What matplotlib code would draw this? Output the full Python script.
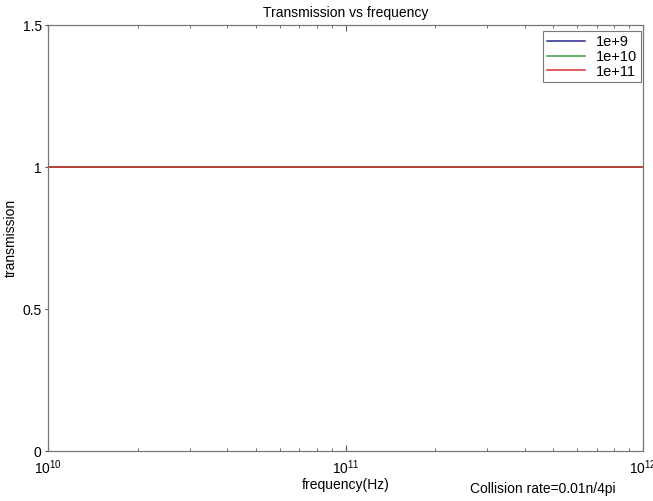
import numpy as np
import matplotlib
matplotlib.use('Agg')
import matplotlib.pyplot as plt

plt.rcParams['font.family'] = ['Liberation Sans', 'DejaVu Sans']

# frequency range (Hz) and transmission for each collision case
freq = [1e10, 1e11, 1e12]
trans_1e9 = [1, 1, 1]
trans_1e10 = [1, 1, 1]
trans_1e11 = [1, 1, 1]
labels = ['1e+9', '1e+10', '1e+11']
colors = ['#2a2a8a', '#3a9a3a', '#d83030']

fig = plt.figure(figsize=(6.53, 5.01), dpi=100)
ax = fig.add_axes([0.0735, 0.0998, 0.9112, 0.8502])

for y, lab, c in zip([trans_1e9, trans_1e10, trans_1e11], labels, colors):
    ax.semilogx(freq, y, color=c, linewidth=1.1, label=lab)

ax.set_xlim(1e10, 1e12)
ax.set_ylim(0, 1.5)
ax.set_yticks([0, 0.5, 1, 1.5])
ax.set_yticklabels(['0', '0.5', '1', '1.5'])
ax.tick_params(axis='x', which='both', direction='in', top=True, labelsize=10,
               color='#555555', pad=5)
ax.tick_params(axis='x', which='major', length=4)
ax.tick_params(axis='x', which='minor', length=2.5)
ax.tick_params(axis='y', direction='out', length=2.5, labelsize=10,
               color='#555555', pad=2)
for s in ax.spines.values():
    s.set_color('#777777')
    s.set_linewidth(0.9)

ax.set_title('Transmission vs frequency', fontsize=10, pad=6)
ax.set_xlabel('frequency(Hz)', fontsize=10, labelpad=1)
ax.set_ylabel('transmission', fontsize=10)
ax.yaxis.set_label_coords(-0.05, 0.5)

leg = ax.legend(loc='upper right', bbox_to_anchor=(0.997, 0.985), fontsize=10.5,
                frameon=True, fancybox=False, borderaxespad=0.0,
                handlelength=2.6, handletextpad=0.8, labelspacing=0.05,
                borderpad=0.25)
leg.get_frame().set_edgecolor('#555555')
leg.get_frame().set_linewidth(0.8)

fig.text(0.832, 0.015, 'Collision rate=0.01n/4pi', fontsize=10, ha='center')

fig.savefig('out.png', dpi=100)
